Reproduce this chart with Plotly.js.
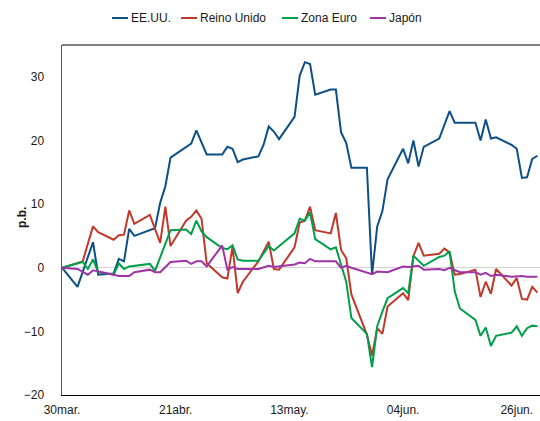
<!DOCTYPE html>
<html>
<head>
<meta charset="utf-8">
<script src="https://cdn.plot.ly/plotly-3.0.1.min.js"></script>
<style>
html,body{margin:0;padding:0;background:#fff;overflow:hidden;}
#chart{width:540px;height:421px;}
</style>
</head>
<body>
<div id="chart"></div>
<script>
// Start date of the series (day 0 = 30 March)
const startDate = '2020-03-30';

// Tick labels (days since 30mar.)
const tickDays = [0, 22, 44, 66, 88];
const tickLabels = ['30mar.', '21abr.', '13may.', '04jun.', '26jun.'];

// EE.UU.
const usDays = [0,3,6,7,10,11,12,13,14,17,18,19,20,21,25,26,28,31,32,33,34,35,38,39,40,41,42,45,46,47,48,49,52,53,54,55,56,59,60,61,62,63,66,67,68,69,70,73,75,76,80,81,82,83,84,87,88,89,90,91,92];
const usVals = [0,-3.0,4.0,-1.1,-0.9,1.4,1.0,6.1,5.0,5.9,6.2,10.2,12.8,17.3,19.5,21.6,17.8,17.8,19.0,18.7,16.6,17.0,17.5,19.3,22.2,21.4,20.2,23.7,30.2,32.3,32.0,27.2,28.0,28.0,21.3,19.6,15.7,15.7,-1.1,6.5,8.9,13.9,18.7,16.4,20.0,15.9,19.0,20.3,24.6,22.8,22.8,20.0,23.3,20.3,20.5,19.3,18.7,14.1,14.2,17.1,17.6];

// Reino Unido
const ukDays = [0,4,6,7,10,11,12,13,14,17,19,20,21,24,25,26,27,28,31,32,33,34,35,38,40,41,42,45,46,47,48,49,52,53,54,55,56,59,60,61,62,63,66,67,68,69,70,73,74,75,76,77,80,81,82,83,84,87,88,89,90,91,92];
const ukVals = [0,1.0,6.5,5.6,4.4,5.1,5.2,9.0,6.9,8.3,3.9,9.6,3.4,7.4,8.0,9.0,7.7,0.7,-1.5,-1.7,3.3,-4.0,-2.2,1.0,4.1,-0.2,-0.3,3.2,7.1,7.4,9.6,5.9,5.4,8.6,2.8,1.5,-4.2,-10.5,-13.8,-9.5,-10.4,-6.1,-4.0,-5.1,1.8,3.9,1.9,2.2,3.0,2.4,-1.1,-1.0,-0.3,-4.6,-2.2,-4.1,-0.2,-2.8,-1.6,-4.9,-5.0,-3.0,-3.9];

// Zona Euro
const euDays = [0,4,5,6,7,10,11,12,13,17,18,21,24,25,26,27,28,31,32,33,34,35,38,40,41,45,46,47,48,49,52,53,54,55,56,59,60,61,62,63,66,67,68,70,73,74,75,76,77,80,81,82,83,84,87,88,89,90,91,92];
const euVals = [0,0.9,-0.2,1.3,-0.7,-1.1,0.7,-0.2,0.2,0.6,-0.5,5.9,6.0,5.3,7.4,5.7,4.8,3.1,2.9,3.5,1.3,1.1,1.1,3.4,2.7,5.4,7.7,7.4,8.7,4.5,2.9,3.2,0.5,-2.2,-7.9,-10.4,-15.6,-9.2,-6.9,-4.8,-3.2,-4.0,1.9,0.3,1.7,1.9,2.6,-3.7,-6.4,-8.2,-10.7,-9.4,-12.3,-10.7,-10.2,-9.2,-10.7,-9.5,-9.1,-9.2];

// Japón
const jpDays = [0,3,5,6,10,11,13,14,17,18,19,21,24,25,26,27,28,31,32,33,34,38,40,41,45,46,47,48,49,53,54,55,56,60,61,63,66,67,69,70,73,74,75,77,80,81,82,83,84,87,89,90,92];
const jpVals = [0,-0.2,-1.1,-0.4,-1.1,-1.3,-1.3,-0.7,-0.3,-0.7,-0.7,0.9,1.1,0.6,1.0,1.0,0.2,3.5,-0.3,0.1,-0.2,-0.2,0.3,0.1,0.5,0.8,0.7,1.4,1.0,1.0,0.0,0.3,0.0,-1.0,-0.6,-0.7,0.2,0.1,0.3,-0.3,-0.2,-0.4,0.0,-0.7,-0.7,-1.1,-0.8,-1.3,-1.1,-1.4,-1.3,-1.4,-1.4];

const seriesNames = ['EE.UU.', 'Reino Unido', 'Zona Euro', 'Japón'];
const seriesColors = ['#0d4f86', '#c0392b', '#00a04b', '#a033a6'];
const yTitle = 'p.b.';

function toDate(d) {
  const t = new Date(startDate + 'T00:00:00Z').getTime() + d * 86400000;
  return new Date(t).toISOString().slice(0, 19).replace('T', ' ');
}

const allDays = [usDays, ukDays, euDays, jpDays];
const allVals = [usVals, ukVals, euVals, jpVals];

const traces = seriesNames.map((name, i) => ({
  type: 'scatter',
  mode: 'lines',
  name: name,
  x: allDays[i].map(toDate),
  y: allVals[i],
  line: {color: seriesColors[i], width: 2},
  hoverinfo: 'skip',
  showlegend: false
}));

// Compact legend, drawn as key lines + text (layout styling)
const W = 540, H = 421, M = {l: 62, r: 0, t: 45, b: 26};
const pw = W - M.l - M.r, ph = H - M.t - M.b;
const px = x => (x - M.l) / pw;
const py = y => (H - M.b - y) / ph;
const legendKeyX = [112, 181, 282, 370];
const legendY = 18;
const shapes = [{
  type: 'line', xref: 'paper', yref: 'paper',
  x0: 0, x1: 1, y0: 1, y1: 1,
  line: {color: '#808080', width: 2}
}];
const annotations = [];
seriesNames.forEach((name, i) => {
  shapes.push({
    type: 'line', xref: 'paper', yref: 'paper',
    x0: px(legendKeyX[i]), x1: px(legendKeyX[i] + 16),
    y0: py(legendY), y1: py(legendY),
    line: {color: seriesColors[i], width: 2}
  });
  annotations.push({
    xref: 'paper', yref: 'paper',
    x: px(legendKeyX[i] + 17), y: py(legendY),
    xanchor: 'left', yanchor: 'middle',
    text: name, showarrow: false,
    font: {size: 12, color: '#1a1a1a'}
  });
});
// y-axis title
annotations.push({
  xref: 'paper', yref: 'paper',
  x: px(22), y: py(218),
  xanchor: 'center', yanchor: 'middle',
  text: '<b>' + yTitle + '</b>', textangle: -90, showarrow: false,
  font: {size: 12, color: '#1a1a1a'}
});

const layout = {
  width: W,
  height: H,
  margin: M,
  paper_bgcolor: '#fff',
  plot_bgcolor: '#fff',
  font: {family: 'Liberation Sans, Arial, sans-serif', size: 12, color: '#1a1a1a'},
  showlegend: false,
  xaxis: {
    type: 'date',
    range: [toDate(0), toDate(92.5)],
    tickmode: 'array',
    tickvals: tickDays.map(toDate),
    ticktext: tickLabels,
    showline: true,
    linecolor: '#000',
    linewidth: 1,
    showgrid: false,
    zeroline: false,
    ticks: '',
    ticklabelstandoff: 4,
    fixedrange: true
  },
  yaxis: {
    range: [-20, 35],
    tickmode: 'array',
    tickvals: [-20, -10, 0, 10, 20, 30],
    showline: true,
    linecolor: '#555',
    linewidth: 1.5,
    showgrid: false,
    zeroline: true,
    zerolinecolor: '#d4d4d4',
    zerolinewidth: 1.5,
    ticks: '',
    ticklabelstandoff: 14,
    fixedrange: true
  },
  shapes: shapes,
  annotations: annotations
};

Plotly.newPlot('chart', traces, layout, {displayModeBar: false, staticPlot: true});
</script>
</body>
</html>
